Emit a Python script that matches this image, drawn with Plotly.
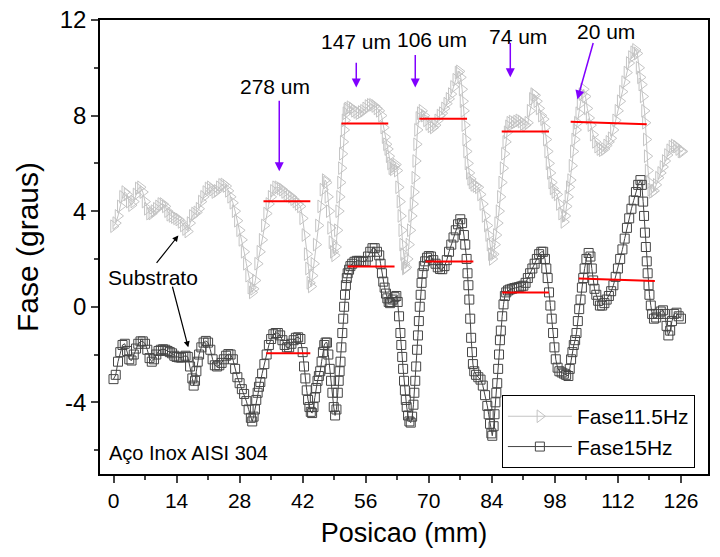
import plotly.graph_objects as go

# ---------------- data ----------------
pos_11 = [0, 0.5, 1.0, 1.5, 2.0, 2.5, 3.0, 3.5, 4.0, 4.5, 5.0, 5.5, 6.0, 6.5, 7.0, 7.5, 8.0, 8.5, 9.0, 9.5,
          10.0, 10.5, 11.0, 11.5, 12.0, 12.5, 13.0, 13.5, 14.0, 14.5, 15.0, 15.5, 16.0, 16.5, 17.0, 17.5, 18.0, 18.5, 19.0, 19.5,
          20.0, 20.5, 21.0, 21.5, 22.0, 22.5, 23.0, 23.5, 24.0, 24.5, 25.0, 25.5, 26.0, 26.5, 27.0, 27.5, 28.0, 28.5, 29.0, 29.5,
          30.0, 30.5, 30.8, 31.1, 31.5, 32.0, 32.5, 33.0, 33.5, 34.0, 34.5, 35.0, 35.5, 36.0, 36.5, 37.0, 37.5, 38.0, 38.5, 39.0,
          39.5, 40.0, 40.5, 41.0, 41.5, 42.0, 42.5, 43.0, 43.3, 43.6, 43.9, 44.2, 44.5, 45.0, 45.5, 46.0, 46.5, 47.0, 47.3, 47.6,
          47.9, 48.2, 48.5, 48.8, 49.1, 49.4, 49.7, 50.0, 50.2, 50.4, 50.6, 50.8, 51.0, 51.2, 51.4, 51.6, 51.8, 52.0, 52.5, 53.0,
          53.5, 54.0, 54.5, 55.0, 55.5, 56.0, 56.5, 57.0, 57.5, 58.0, 58.5, 59.0, 59.5, 60.0, 60.3, 60.6, 60.9, 61.2, 61.5, 61.8,
          62.1, 62.4, 62.7, 63.0, 63.3, 63.6, 63.8, 64.0, 64.2, 64.4, 64.6, 64.8, 65.0, 65.3, 65.6, 65.9, 66.2, 66.5, 66.7, 66.9,
          67.1, 67.3, 67.5, 67.8, 68.1, 68.5, 69.0, 69.5, 70.0, 70.5, 71.0, 71.5, 72.0, 72.5, 73.0, 73.5, 74.0, 74.5, 75.0, 75.5,
          76.0, 76.5, 76.8, 77.1, 77.4, 77.6, 77.8, 78.0, 78.2, 78.4, 78.7, 79.0, 79.3, 79.6, 80.0, 80.5, 81.0, 81.5, 82.0, 82.5,
          83.0, 83.3, 83.6, 83.9, 84.1, 84.4, 84.7, 85.0, 85.3, 85.6, 85.9, 86.2, 86.5, 86.8, 87.1, 87.4, 87.7, 88.0, 88.5, 89.0,
          89.5, 90.0, 90.5, 91.0, 91.5, 92.0, 92.5, 93.0, 93.3, 93.6, 94.0, 94.5, 95.0, 95.5, 95.8, 96.1, 96.4, 96.7, 97.0, 97.3,
          97.6, 98.0, 98.5, 99.0, 99.5, 100.0, 100.3, 100.6, 100.9, 101.2, 101.5, 101.8, 102.1, 102.4, 102.7, 103.0, 103.3, 103.6, 104.0, 104.4,
          104.8, 105.2, 105.6, 106.0, 106.5, 107.0, 107.5, 108.0, 108.5, 109.0, 109.5, 110.0, 110.5, 111.0, 111.5, 112.0, 112.5, 113.0, 113.5, 114.0,
          114.5, 115.0, 115.5, 115.9, 116.3, 116.7, 117.0, 117.3, 117.6, 117.9, 118.1, 118.3, 118.5, 118.7, 119.0, 119.3, 119.6, 120.0, 120.5, 121.0,
          121.5, 122.0, 122.5, 123.0, 123.5, 124.0, 124.5, 125.0, 125.5, 126.0, 126.3]
fase_11 = [3.37, 3.5, 3.8, 4.2, 4.6, 4.8, 4.7, 4.4, 4.25, 4.4, 4.7, 4.95, 5.0, 4.8, 4.4, 4.1, 3.9, 3.9, 4.0, 4.1,
           4.2, 4.3, 4.3, 4.2, 4.0, 3.85, 3.8, 3.75, 3.7, 3.65, 3.55, 3.4, 3.25, 3.15, 3.5, 3.8, 3.9, 3.95, 4.1, 4.4,
           4.6, 4.8, 4.95, 5.0, 4.9, 4.8, 4.85, 5.0, 5.1, 5.12, 5.05, 4.85, 4.6, 4.35, 4.0, 3.6, 3.2, 2.8, 2.3, 1.8,
           1.3, 0.8, 0.6, 0.75, 1.1, 1.8, 2.3, 2.8, 3.4, 3.9, 4.3, 4.6, 4.85, 5.0, 5.0, 4.95, 4.9, 4.8, 4.7, 4.65,
           4.6, 4.5, 4.4, 4.3, 4.2, 3.7, 3.0, 2.2, 1.6, 1.0, 0.85, 1.3, 1.8, 2.6, 3.4, 4.2, 4.9, 5.3, 5.2, 4.6,
           4.0, 3.3, 2.7, 2.3, 2.15, 2.5, 3.2, 4.0, 4.6, 5.2, 5.8, 6.4, 6.9, 7.4, 7.8, 8.1, 8.25, 8.3, 8.35, 8.3,
           8.2, 8.15, 8.1, 8.15, 8.2, 8.3, 8.4, 8.45, 8.45, 8.4, 8.3, 8.2, 8.0, 7.5, 7.1, 6.8, 6.6, 6.3, 6.0, 5.8,
           5.75, 5.9, 5.95, 5.7, 5.0, 4.4, 3.8, 3.2, 2.6, 2.2, 1.8, 1.6, 1.65, 2.0, 2.6, 3.2, 3.8, 4.3, 4.8, 5.4,
           6.1, 6.8, 7.4, 7.9, 8.1, 8.2, 8.0, 7.8, 7.65, 7.55, 7.5, 7.6, 7.8, 8.0, 8.1, 8.3, 8.5, 8.7, 8.9, 9.2,
           9.5, 9.8, 9.85, 9.6, 9.1, 8.6, 8.2, 7.6, 7.0, 6.5, 6.0, 5.6, 5.35, 5.2, 5.1, 5.05, 5.0, 4.7, 4.3, 3.8,
           3.4, 3.0, 2.6, 2.2, 2.0, 2.2, 2.6, 3.0, 3.5, 4.0, 4.6, 5.2, 5.8, 6.4, 6.9, 7.3, 7.55, 7.7, 7.75, 7.7,
           7.75, 7.8, 7.75, 7.65, 7.6, 7.7, 8.2, 8.7, 8.9, 8.85, 8.6, 8.3, 8.0, 7.85, 7.5, 7.0, 6.5, 6.0, 5.6, 5.2,
           4.95, 4.8, 4.7, 4.3, 3.9, 3.55, 3.8, 4.2, 4.6, 5.0, 5.3, 5.9, 6.5, 7.0, 7.4, 7.7, 8.1, 8.5, 8.9, 9.1,
           8.8, 8.3, 7.9, 7.6, 7.2, 6.9, 6.7, 6.6, 6.55, 6.6, 6.75, 6.9, 7.05, 7.4, 7.8, 8.2, 8.6, 9.0, 9.4, 9.8,
           10.2, 10.45, 10.65, 10.75, 10.6, 10.0, 9.6, 9.3, 8.8, 8.2, 7.7, 7.0, 6.3, 5.7, 5.2, 4.9, 4.8, 4.85, 5.1, 5.4,
           5.6, 5.85, 6.1, 6.35, 6.55, 6.7, 6.75, 6.7, 6.6, 6.5, 6.5]

pos_15 = [0, 0.5, 1.0, 1.5, 2.0, 2.5, 3.0, 3.5, 4.0, 4.5, 5.0, 5.5, 6.0, 6.5, 7.0, 7.5, 8.0, 8.5, 9.0, 9.5,
          10.0, 10.5, 11.0, 11.5, 12.0, 12.5, 13.0, 13.5, 14.0, 14.5, 15.0, 15.5, 16.0, 16.5, 17.0, 17.5, 17.8, 18.1, 18.4, 18.7,
          19.0, 19.5, 20.0, 20.5, 21.0, 21.5, 22.0, 22.5, 23.0, 23.5, 24.0, 24.5, 25.0, 25.5, 26.0, 26.5, 27.0, 27.5, 28.0, 28.5,
          29.0, 29.5, 30.0, 30.5, 30.8, 31.1, 31.4, 31.7, 32.0, 32.3, 32.6, 33.0, 33.5, 34.0, 34.5, 35.0, 35.5, 36.0, 36.5, 37.0,
          37.5, 38.0, 38.5, 39.0, 39.5, 40.0, 40.5, 41.0, 41.5, 42.0, 42.3, 42.6, 42.9, 43.2, 43.5, 43.8, 44.1, 44.4, 44.7, 45.0,
          45.3, 45.6, 45.9, 46.2, 46.5, 46.8, 47.1, 47.4, 47.7, 48.0, 48.3, 48.6, 48.9, 49.2, 49.5, 49.8, 50.0, 50.2, 50.4, 50.6,
          50.8, 51.0, 51.2, 51.4, 51.6, 51.8, 52.0, 52.3, 52.6, 53.0, 53.5, 54.0, 54.5, 55.0, 55.5, 56.0, 56.5, 57.0, 57.5, 58.0,
          58.5, 59.0, 59.3, 59.6, 59.9, 60.2, 60.5, 60.8, 61.1, 61.4, 61.7, 62.0, 62.4, 62.8, 63.1, 63.4, 63.7, 63.9, 64.1, 64.3,
          64.5, 64.7, 64.9, 65.1, 65.4, 65.7, 66.0, 66.3, 66.6, 66.8, 67.0, 67.2, 67.4, 67.6, 67.8, 68.0, 68.2, 68.4, 68.6, 68.9,
          69.2, 69.6, 70.0, 70.5, 71.0, 71.5, 72.0, 72.5, 73.0, 73.5, 74.0, 74.5, 75.0, 75.5, 76.0, 76.5, 77.0, 77.4, 77.8, 78.1,
          78.4, 78.6, 78.8, 79.0, 79.2, 79.4, 79.6, 79.8, 80.1, 80.5, 81.0, 81.5, 82.0, 82.5, 83.0, 83.3, 83.6, 83.9, 84.1, 84.4,
          84.6, 84.8, 85.0, 85.2, 85.4, 85.6, 85.8, 86.0, 86.3, 86.6, 86.9, 87.2, 87.6, 88.0, 88.5, 89.0, 89.5, 90.0, 90.5, 91.0,
          91.5, 92.0, 92.5, 93.0, 93.5, 94.0, 94.5, 95.0, 95.4, 95.8, 96.1, 96.4, 96.7, 97.0, 97.3, 97.6, 97.9, 98.2, 98.6, 99.0,
          99.5, 100.0, 100.5, 101.0, 101.3, 101.6, 101.9, 102.2, 102.5, 102.8, 103.1, 103.4, 103.7, 104.0, 104.3, 104.6, 105.0, 105.5, 105.9, 106.2,
          106.5, 106.8, 107.2, 107.6, 108.0, 108.5, 109.0, 109.5, 110.0, 110.5, 111.0, 111.5, 112.0, 112.5, 113.0, 113.5, 114.0, 114.5, 115.0, 115.5,
          116.0, 116.5, 117.0, 117.3, 117.6, 117.8, 118.0, 118.2, 118.4, 118.6, 118.8, 119.0, 119.3, 119.6, 120.0, 120.5, 121.0, 121.5, 122.0, 122.4,
          122.8, 123.2, 123.6, 124.0, 124.5, 125.0, 125.5, 126.0]
fase_15 = [-3.03, -2.85, -2.3, -1.9, -1.6, -1.55, -1.85, -2.2, -2.25, -2.0, -1.75, -1.55, -1.45, -1.45, -1.55, -1.8, -2.15, -2.3, -2.2, -2.0,
           -1.85, -1.8, -1.78, -1.8, -1.85, -1.9, -1.95, -2.05, -2.1, -2.12, -2.13, -2.1, -2.05, -2.1, -2.5, -3.0, -3.3, -3.1, -2.7, -2.3,
           -2.0, -1.7, -1.5, -1.43, -1.5, -1.8, -2.2, -2.45, -2.5, -2.45, -2.35, -2.2, -2.05, -1.98, -2.0, -2.2, -2.6, -2.95, -3.2, -3.45,
           -3.65, -3.95, -4.3, -4.65, -4.8, -4.6, -4.3, -3.9, -3.6, -3.35, -3.15, -2.8, -2.4, -2.0, -1.6, -1.35, -1.15, -1.1, -1.1, -1.2,
           -1.4, -1.6, -1.7, -1.7, -1.55, -1.4, -1.3, -1.28, -1.35, -1.9, -2.5, -3.0, -3.5, -3.9, -4.2, -4.4, -4.45, -4.2, -3.8, -3.4,
           -3.1, -2.9, -2.7, -2.3, -1.9, -1.6, -1.5, -1.5, -2.0, -2.6, -3.1, -3.6, -4.2, -4.55, -4.3, -3.6, -3.1, -2.7, -2.3, -1.7,
           -1.1, -0.5, 0.0, 0.5, 0.9, 1.2, 1.4, 1.55, 1.7, 1.8, 1.88, 1.92, 1.92, 1.9, 1.88, 1.9, 2.1, 2.3, 2.45, 2.45,
           2.3, 2.15, 1.8, 1.4, 1.05, 0.8, 0.55, 0.35, 0.2, 0.15, 0.2, 0.3, 0.4, 0.45, 0.2, -0.4, -1.1, -1.6, -2.1, -2.6,
           -3.1, -3.5, -3.9, -4.2, -4.55, -4.8, -4.85, -4.6, -4.1, -3.6, -3.1, -2.5, -1.8, -1.2, -0.6, 0.0, 0.5, 1.0, 1.4, 1.7,
           1.9, 2.05, 2.12, 2.1, 1.95, 1.8, 1.65, 1.58, 1.57, 1.7, 1.95, 2.3, 2.6, 2.9, 3.2, 3.45, 3.66, 3.5, 3.0, 2.6,
           2.0, 1.4, 0.9, 0.3, -0.5, -1.3, -1.9, -2.4, -2.7, -2.85, -2.95, -3.05, -3.3, -3.7, -4.15, -4.5, -4.9, -5.3, -5.4, -5.0,
           -4.5, -4.0, -3.6, -3.2, -2.6, -2.0, -1.4, -1.0, -0.4, 0.1, 0.45, 0.6, 0.68, 0.72, 0.75, 0.78, 0.8, 0.82, 0.85, 0.88,
           1.0, 1.2, 1.4, 1.6, 1.8, 2.0, 2.2, 2.3, 2.3, 2.0, 1.6, 1.2, 0.6, 0.05, -0.5, -1.1, -1.7, -2.2, -2.55, -2.7,
           -2.75, -2.8, -2.85, -2.9, -2.6, -2.2, -1.9, -1.6, -1.4, -1.1, -0.6, -0.1, 0.3, 0.8, 1.2, 1.6, 2.0, 2.25, 2.1, 1.6,
           1.1, 0.75, 0.5, 0.25, 0.05, 0.05, 0.15, 0.3, 0.45, 0.65, 0.9, 1.25, 1.6, 2.0, 2.4, 2.85, 3.3, 3.7, 4.1, 4.45,
           4.8, 5.1, 5.3, 5.1, 4.4, 3.8, 3.1, 2.5, 1.9, 1.4, 0.9, 0.5, 0.05, -0.3, -0.5, -0.45, -0.3, -0.2, -0.15, -0.3,
           -0.8, -1.2, -1.0, -0.6, -0.3, -0.25, -0.4, -0.5]

# red mean-level segments [x0, x1, y0, y1]
media_11 = [[33.3, 43.7, 4.41, 4.41], [50.6, 61.0, 7.67, 7.67], [67.9, 78.5, 7.87, 7.87],
            [86.2, 96.7, 7.33, 7.33], [101.5, 118.4, 7.74, 7.64]]
media_15 = [[33.9, 43.7, -1.95, -1.95], [52.0, 62.4, 1.68, 1.68], [69.3, 79.9, 1.89, 1.89],
            [86.3, 96.7, 0.60, 0.60], [103.3, 120.2, 1.18, 1.08]]

# thickness labels: text, text x, text y, arrow tail x, tail y, head x, head y
espessuras = ["278 um", "147 um", "106 um", "74 um", "20 um"]
esp_text_x = [35.9, 53.9, 70.8, 89.9, 109.3]
esp_text_y = [9.22, 11.1, 11.19, 11.32, 11.53]
esp_tail_x = [36.8, 53.9, 67.0, 88.1, 106.6]
esp_tail_y = [8.68, 10.27, 10.6, 11.1, 11.1]
esp_head_x = [36.8, 53.9, 67.0, 88.1, 103.0]
esp_head_y = [5.67, 9.18, 9.18, 9.6, 8.68]

x_ticks = [0, 14, 28, 42, 56, 70, 84, 98, 112, 126]
y_ticks = [-4, 0, 4, 8, 12]
y_tick_text = ["-4", "0", "4", "8", "12"]

FONT = "Liberation Sans, Arial, sans-serif"
LIGHT = "#c4c4c4"
DARK = "#454545"

fig = go.Figure()
fig.add_trace(go.Scatter(
    x=pos_11, y=fase_11, name="Fase11.5Hz", mode="lines+markers",
    line=dict(color=LIGHT, width=1),
    marker=dict(symbol="triangle-right-open", size=11, color=LIGHT, line=dict(width=1, color=LIGHT)),
))
fig.add_trace(go.Scatter(
    x=pos_15, y=fase_15, name="Fase15Hz", mode="lines+markers",
    line=dict(color=DARK, width=1),
    marker=dict(symbol="square-open", size=9, color=DARK, line=dict(width=1, color=DARK)),
))
for seg in media_11 + media_15:
    fig.add_trace(go.Scatter(x=[seg[0], seg[1]], y=[seg[2], seg[3]], mode="lines",
                             line=dict(color="#ff0000", width=2), showlegend=False, hoverinfo="skip"))

ann = []
for i, t in enumerate(espessuras):
    ann.append(dict(x=esp_text_x[i], y=esp_text_y[i], text=t, showarrow=False,
                    font=dict(size=21, color="black", family=FONT)))
    ann.append(dict(x=esp_head_x[i], y=esp_head_y[i], ax=esp_tail_x[i], ay=esp_tail_y[i],
                    axref="x", ayref="y", text="", showarrow=True, arrowhead=2, arrowsize=1.2,
                    arrowwidth=1.5, arrowcolor="#8000ff"))
ann.append(dict(x=8.8, y=1.23, text="Substrato", showarrow=False, font=dict(size=21, color="black", family=FONT)))
ann.append(dict(x=14.4, y=2.98, ax=9.3, ay=1.77, axref="x", ayref="y", text="", showarrow=True,
                arrowhead=2, arrowsize=1, arrowwidth=1.2, arrowcolor="black"))
ann.append(dict(x=16.6, y=-1.7, ax=13.0, ay=0.9, axref="x", ayref="y", text="", showarrow=True,
                arrowhead=2, arrowsize=1, arrowwidth=1.2, arrowcolor="black"))
ann.append(dict(x=-1.4, y=-6.13, text="Aço Inox AISI 304", showarrow=False, xanchor="left",
                font=dict(size=20, color="black", family=FONT)))

fig.update_layout(
    width=720, height=557,
    margin=dict(l=100, r=12, t=20, b=83),
    paper_bgcolor="white", plot_bgcolor="white",
    font=dict(family=FONT, size=21, color="black"),
    showlegend=True,
    legend=dict(x=0.661, y=0.013, xanchor="left", yanchor="bottom", bgcolor="white",
                bordercolor="black", borderwidth=1, font=dict(size=21, family=FONT),
                itemwidth=64, tracegroupgap=0),
    annotations=ann,
)
fig.update_xaxes(
    range=[-3, 132], tickvals=x_ticks, ticks="outside", ticklen=7, tickwidth=1.5, automargin=False,
    ticklabeloverflow="allow",
    showline=True, linecolor="black", linewidth=1.5, mirror=True, showgrid=False, zeroline=False,
    tickfont=dict(size=21, family=FONT),
    minor=dict(ticks="outside", ticklen=4, tickwidth=1.5, dtick=7, tick0=0, showgrid=False),
    title=dict(text="Posicao (mm)", font=dict(size=27, family=FONT), standoff=12),
)
fig.update_yaxes(
    range=[-7, 12], tickvals=y_ticks, ticktext=y_tick_text, ticks="outside", ticklen=7, tickwidth=1.5,
    automargin=False, ticklabeloverflow="allow",
    showline=True, linecolor="black", linewidth=1.5, mirror=True, showgrid=False, zeroline=False,
    tickfont=dict(size=24, family=FONT),
    minor=dict(ticks="outside", ticklen=4, tickwidth=1.5, dtick=2, tick0=0, showgrid=False),
    title=dict(text="Fase (graus)", font=dict(size=30, family=FONT), standoff=12),
)
# remove the default 8px page margin so the 720x557 figure fills the window exactly
fig.write_html("out.html", config={"displayModeBar": False},
               post_script="document.body.style.margin='0';document.body.style.overflow='hidden';")
